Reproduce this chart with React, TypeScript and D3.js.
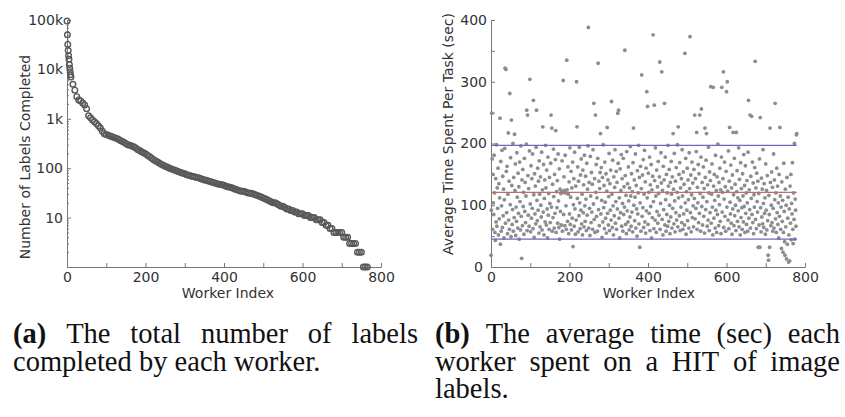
import { useEffect, useRef } from "react"
import * as d3 from "d3"

// (a) labels completed per worker, sorted. Workers 0-9 one by one, then every 5th worker
const headLabelCounts = [95000, 50000, 32000, 24000, 19000, 16000, 12500, 10500, 9000, 7800]
const labelCountStart = 10
const labelCountStep = 5
const labelCounts = [
  7000, 5000, 3800, 2800, 2400, 2300, 2100, 1900, 1600, 1150, 1050, 950, 870, 800, 720, 650, 560, 500,
  480, 465, 450, 435, 420, 405, 390, 370, 352, 335, 318, 300, 292, 283, 272, 255, 240, 227, 215, 205,
  195, 183, 173, 160, 150, 142, 135, 127, 120, 115, 110, 106, 101, 97, 94, 91, 88, 85, 82, 79, 77, 74,
  72, 70, 68, 67, 65, 64, 62, 60, 58, 57, 55, 54, 52, 51, 49, 48, 47, 46, 45, 43, 42, 41, 40, 39, 37,
  36, 35, 34, 34, 33, 32, 31, 31, 30, 29, 28, 27, 26, 25, 24, 23, 22, 21, 20, 20, 19, 18, 17, 17, 16,
  15, 15, 14, 14, 13, 13, 12, 12, 12, 11, 11, 11, 10, 10, 10, 9, 9, 9, 8, 8, 7, 7, 6, 6, 5, 5, 5, 5,
  5, 4, 4, 4, 3, 3, 3, 3, 2, 2, 2, 1, 1, 1,
]

// (b) average seconds per task, one value per worker 0..779
const avgTimes = [
  19, 92, 249, 175, 61, 150, 104, 85, 181, 120, 56, 43, 143, 73, 198, 66, 128, 95, 160, 52,
  135, 78, 112, 241, 37, 171, 58, 99, 189, 64, 147, 83, 126, 47, 109, 192, 322, 71, 320, 155,
  88, 163, 54, 118, 217, 76, 139, 61, 281, 101, 177, 49, 238, 132, 69, 93, 200, 58, 145, 80,
  215, 124, 167, 51, 97, 74, 185, 113, 63, 152, 87, 130, 45, 170, 106, 60, 196, 82, 14, 141,
  67, 158, 98, 121, 53, 176, 90, 137, 72, 115, 199, 254, 59, 246, 148, 84, 127, 66, 188, 304,
  102, 57, 164, 79, 143, 95, 183, 62, 270, 117, 48, 151, 86, 131, 70, 194, 254, 108, 75, 160,
  92, 139, 55, 172, 118, 65, 146, 100, 81, 186, 60, 125, 227, 89, 166, 52, 111, 141, 73, 197,
  128, 68, 157, 94, 47, 178, 84, 119, 61, 145, 103, 72, 168, 246, 97, 225, 58, 134, 80, 191,
  114, 63, 150, 87, 174, 221, 56, 122, 96, 140, 71, 183, 107, 64, 159, 45, 126, 90, 119, 68,
  123, 172, 58, 121, 302, 85, 146, 124, 67, 181, 120, 99, 61, 335, 125, 74, 162, 118, 54, 138,
  86, 193, 69, 113, 155, 60, 128, 79, 170, 33, 101, 143, 66, 186, 94, 53, 131, 76, 300, 227,
  111, 162, 57, 139, 83, 194, 104, 62, 149, 92, 175, 70, 118, 52, 157, 88, 133, 65, 181, 99,
  74, 147, 110, 59, 168, 84, 126, 196, 388, 63, 137, 95, 51, 179, 115, 72, 153, 89, 134, 61,
  190, 102, 265, 77, 143, 56, 246, 121, 166, 82, 112, 58, 176, 330, 93, 139, 67, 127, 153, 216,
  86, 161, 108, 48, 145, 73, 198, 96, 132, 62, 170, 105, 79, 151, 55, 123, 226, 87, 141, 68,
  114, 184, 59, 135, 92, 157, 76, 268, 118, 64, 173, 99, 52, 146, 83, 129, 190, 71, 106, 155,
  61, 137, 94, 249, 168, 254, 79, 112, 47, 159, 88, 124, 182, 66, 143, 103, 58, 176, 85, 130,
  97, 351, 148, 69, 116, 54, 187, 91, 135, 73, 162, 107, 60, 128, 81, 195, 115, 66, 151, 89,
  122, 57, 169, 225, 100, 141, 75, 113, 183, 63, 132, 94, 50, 156, 86, 120, 197, 70, 145, 32,
  104, 163, 58, 127, 311, 82, 149, 96, 174, 64, 118, 189, 73, 138, 55, 160, 91, 284, 112, 260,
  69, 152, 121, 87, 178, 59, 133, 98, 166, 47, 125, 80, 147, 376, 106, 62, 262, 140, 76, 193,
  115, 56, 157, 90, 130, 71, 171, 119, 84, 146, 332, 61, 103, 185, 136, 316, 77, 124, 52, 163,
  93, 141, 265, 68, 178, 109, 58, 150, 85, 120, 66, 197, 131, 74, 158, 100, 54, 137, 81, 171,
  118, 63, 146, 95, 216, 126, 70, 184, 107, 57, 139, 88, 161, 76, 121, 198, 65, 227, 112, 150,
  83, 169, 59, 128, 97, 143, 72, 190, 115, 61, 154, 86, 134, 68, 346, 104, 176, 53, 122, 92,
  160, 75, 141, 109, 63, 185, 127, 373, 88, 149, 57, 117, 170, 80, 136, 99, 65, 158, 111, 246,
  78, 143, 95, 187, 218, 61, 129, 104, 166, 72, 151, 87, 246, 119, 58, 178, 256, 98, 137, 68,
  113, 162, 82, 127, 55, 225, 145, 93, 173, 216, 106, 66, 133, 76, 194, 120, 59, 154, 88, 140,
  292, 71, 118, 167, 97, 52, 291, 131, 79, 150, 108, 63, 181, 92, 124, 56, 146, 85, 199, 115,
  67, 137, 101, 160, 74, 125, 54, 178, 291, 89, 121, 143, 316, 64, 110, 170, 82, 130, 58, 155,
  284, 97, 300, 123, 76, 188, 62, 139, 226, 105, 86, 165, 71, 128, 53, 149, 94, 218, 117, 67,
  176, 83, 134, 100, 59, 218, 122, 156, 74, 112, 91, 193, 65, 142, 108, 52, 169, 80, 127, 96,
  61, 151, 115, 73, 182, 98, 132, 56, 164, 87, 120, 69, 140, 104, 58, 186, 270, 79, 125, 93,
  246, 63, 147, 111, 244, 85, 170, 72, 136, 54, 117, 97, 161, 333, 77, 128, 62, 152, 106, 89,
  139, 32, 119, 68, 175, 32, 242, 96, 57, 144, 81, 126, 70, 190, 103, 64, 135, 87, 112, 53,
  167, 92, 124, 60, 148, 75, 19, 11, 116, 85, 32, 225, 137, 67, 100, 154, 72, 129, 58, 95,
  183, 63, 141, 109, 265, 78, 120, 56, 160, 88, 131, 69, 104, 47, 150, 82, 226, 115, 61, 97,
  30, 138, 74, 108, 24, 56, 168, 90, 41, 19, 126, 65, 100, 13, 145, 37, 79, 113, 8, 52,
  94, 10, 131, 71, 150, 44, 103, 86, 169, 61, 38, 120, 77, 200, 45, 110, 92, 66, 214, 216,
]
const meanTime = 121
const bandTimes = [45, 197]

const countTicks = [10, 100, 1000, 10000, 100000]
const countTickLabels = ["10", "100", "1k", "10k", "100k"]
const workerTicks = [0, 100, 200, 300, 400, 500, 600, 700, 800]
const timeTicks = [0, 50, 100, 150, 200, 250, 300, 350, 400]

const captionA = [
  { words: ["(a)", "The", "total", "number", "of", "labels"], justify: true },
  { words: ["completed", "by", "each", "worker."], justify: false },
]
const captionB = [
  { words: ["(b)", "The", "average", "time", "(sec)", "each"], justify: true },
  { words: ["worker", "spent", "on", "a", "HIT", "of", "image"], justify: true },
  { words: ["labels."], justify: false },
]

const sans = "DejaVu Sans, sans-serif"
const serif = "Liberation Serif, Times New Roman, serif"
const ink = "#333"
const axisGray = "#777"

export default function App() {
  const svgRef = useRef<SVGSVGElement>(null)

  useEffect(() => {
    if (!svgRef.current) return
    document.body.style.margin = "0"
    const svg = d3.select(svgRef.current)
    svg.selectAll("*").remove()

    const styleAxis = (g: any) => {
      g.select(".domain").attr("stroke", axisGray)
      g.selectAll(".tick line").attr("stroke", axisGray)
      g.selectAll("text").attr("fill", ink).attr("font-family", sans).attr("font-size", 14)
    }

    // ---------- (a) labels completed, log scale ----------
    const xa = d3.scaleLinear().domain([0, 800]).range([67, 381])
    const ya = d3.scaleLog().domain([1, 100000]).range([267, 20])

    const minorCounts: number[] = []
    for (let p = 0; p < 5; p++) for (let m = 2; m <= 9; m++) minorCounts.push(m * Math.pow(10, p))

    svg.append("g")
      .attr("transform", `translate(${xa(0)},0)`)
      .call(d3.axisLeft(ya).tickValues(minorCounts).tickSize(-2).tickSizeOuter(0).tickFormat(() => ""))
      .call(styleAxis)
    svg.append("g")
      .attr("transform", `translate(${xa(0)},0)`)
      .call(d3.axisLeft(ya).tickValues(countTicks).tickSize(-4).tickSizeOuter(0).tickPadding(4)
        .tickFormat((d, i) => countTickLabels[i]))
      .call(styleAxis)
    svg.append("g")
      .attr("transform", `translate(0,${ya(1)})`)
      .call(d3.axisBottom(xa).tickValues(workerTicks).tickSize(-4).tickSizeOuter(0).tickPadding(5)
        .tickFormat((d) => ((d as number) % 200 === 0 ? String(d) : "")))
      .call(styleAxis)

    const countPoints = [
      ...headLabelCounts.map((c, i) => ({ w: i, c })),
      ...labelCounts.map((c, i) => ({ w: labelCountStart + i * labelCountStep, c })),
    ]
    svg.append("g")
      .selectAll("circle")
      .data(countPoints)
      .join("circle")
      .attr("cx", (d) => xa(d.w))
      .attr("cy", (d) => ya(d.c))
      .attr("r", 2.8)
      .attr("fill", "none")
      .attr("stroke", "#585858")
      .attr("stroke-width", 1.4)

    svg.append("text")
      .attr("x", 228).attr("y", 298)
      .attr("text-anchor", "middle")
      .attr("font-family", sans).attr("font-size", 14).attr("fill", ink)
      .text("Worker Index")
    svg.append("text")
      .attr("transform", "translate(30,157) rotate(-90)")
      .attr("text-anchor", "middle")
      .attr("font-family", sans).attr("font-size", 14).attr("fill", ink)
      .text("Number of Labels Completed")

    // ---------- (b) average time per task ----------
    const xb = d3.scaleLinear().domain([0, 800]).range([491, 805])
    const yb = d3.scaleLinear().domain([0, 400]).range([267, 20])

    svg.append("g")
      .attr("transform", `translate(${xb(0)},0)`)
      .call(d3.axisLeft(yb).tickValues(timeTicks).tickSize(-4).tickSizeOuter(0).tickPadding(4)
        .tickFormat((d) => ((d as number) % 100 === 0 ? String(d) : "")))
      .call(styleAxis)
      .call((g: any) => g.selectAll(".tick text").filter((d: number) => d === 0).attr("dx", -4))
    svg.append("g")
      .attr("transform", `translate(0,${yb(0)})`)
      .call(d3.axisBottom(xb).tickValues(workerTicks).tickSize(-4).tickSizeOuter(0).tickPadding(5)
        .tickFormat((d) => ((d as number) % 200 === 0 ? String(d) : "")))
      .call(styleAxis)

    svg.append("g")
      .selectAll("circle")
      .data(avgTimes)
      .join("circle")
      .attr("cx", (d, i) => xb(i))
      .attr("cy", (d) => yb(d))
      .attr("r", 1.9)
      .attr("fill", "#8d8d8d")

    const lastWorker = avgTimes.length - 1
    svg.append("g")
      .selectAll("line")
      .data([
        { v: bandTimes[0], c: "#6a6ab8" },
        { v: meanTime, c: "#c56a6a" },
        { v: bandTimes[1], c: "#6a6ab8" },
      ])
      .join("line")
      .attr("x1", xb(0)).attr("x2", xb(lastWorker))
      .attr("y1", (d) => yb(d.v)).attr("y2", (d) => yb(d.v))
      .attr("stroke", (d) => d.c)
      .attr("stroke-width", 1.3)

    svg.append("text")
      .attr("x", 649).attr("y", 298)
      .attr("text-anchor", "middle")
      .attr("font-family", sans).attr("font-size", 14).attr("fill", ink)
      .text("Worker Index")
    svg.append("text")
      .attr("transform", "translate(453,134) rotate(-90)")
      .attr("text-anchor", "middle")
      .attr("font-family", sans).attr("font-size", 14).attr("fill", ink)
      .text("Average Time Spent Per Task (sec)")

    // ---------- captions ----------
    const drawCaption = (lines: { words: string[]; justify: boolean }[], x0: number, x1: number) => {
      lines.forEach((line, li) => {
        const y = 343 + li * 27.5
        const nodes = line.words.map((w) =>
          svg.append("text")
            .attr("y", y)
            .attr("font-family", serif)
            .attr("font-size", 28.5)
            .attr("font-weight", w.startsWith("(") && w.length === 3 ? "bold" : null)
            .attr("fill", "#111")
            .text(w),
        )
        const widths = nodes.map((n) => (n.node() as SVGTextElement).getComputedTextLength())
        const total = d3.sum(widths)
        const gap = line.justify && nodes.length > 1 ? (x1 - x0 - total) / (nodes.length - 1) : 7.2
        let x = x0
        nodes.forEach((n, i) => {
          n.attr("x", x)
          x += widths[i] + gap
        })
      })
    }
    drawCaption(captionA, 13, 418)
    drawCaption(captionB, 435, 840)
  }, [])

  return <svg ref={svgRef} width={845} height={417} style={{ display: "block", background: "#fff" }} />
}
